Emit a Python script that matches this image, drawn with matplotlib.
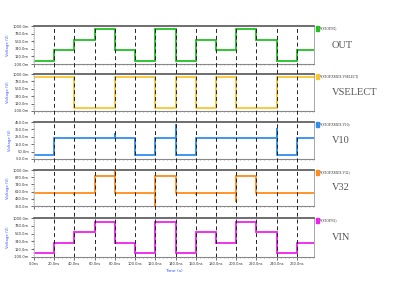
import numpy as np
import matplotlib
matplotlib.use("Agg")
import matplotlib.pyplot as plt
from matplotlib.ticker import MultipleLocator

# segment boundaries (ns) and per-segment levels (V)
t_edges = [0, 20, 40, 60, 80, 100, 120, 140, 160, 180, 200, 220, 240, 260, 277]
out_v = [0.0, 0.3, 0.6, 0.9, 0.3, 0.0, 0.9, 0.0, 0.6, 0.3, 0.9, 0.6, 0.0, 0.3]
vsel_v = [0.9, 0.9, 0.0, 0.0, 0.9, 0.9, 0.0, 0.9, 0.0, 0.9, 0.0, 0.0, 0.9, 0.9]
v10_v = [0.0, 0.24, 0.24, 0.24, 0.24, 0.0, 0.24, 0.0, 0.24, 0.24, 0.24, 0.24, 0.0, 0.24]
v32_v = [0.58, 0.58, 0.58, 0.89, 0.58, 0.58, 0.89, 0.58, 0.58, 0.58, 0.89, 0.58, 0.58, 0.58]
vin_v = [0.0, 0.3, 0.6, 0.9, 0.3, 0.0, 0.9, 0.0, 0.6, 0.3, 0.9, 0.6, 0.0, 0.3]

# switching glitches: time (ns) -> extreme value reached at the edge
v10_glitch = {80: 0.30, 140: 0.42, 240: 0.37}
v32_glitch = {40: 0.55, 80: 1.0, 120: 0.35, 160: 0.55, 200: 0.43}

names = ["OUT", "VSELECT", "V10", "V32", "VIN"]
legend_txt = ["V(STOP.N0)", "V(STOP.XMUX.VSELECT)", "V(STOP.XMUX.V10)",
              "V(STOP.XMUX.V32)", "V(STOP.N1)"]
colors = ["#22c022", "#f8c630", "#2f8ff0", "#ff8c1a", "#ee22ee"]
ylims = [(-0.1, 1.0), (-0.1, 1.0), (-0.05, 0.45), (0.35, 1.0), (-0.1, 1.0)]
series = [out_v, vsel_v, v10_v, v32_v, vin_v]
glitches = [{}, {}, v10_glitch, v32_glitch, {}]

# panel pixel rows (top, bottom) in the 415x291 figure
rows = [(26, 64), (74, 111), (122, 159), (170, 206), (218, 257)]
W, H = 415.0, 291.0
x0, x1 = 34, 314


def build(levels, glitch):
    xs, ys = [t_edges[0]], [levels[0]]
    for i in range(1, len(levels)):
        t = t_edges[i]
        xs.append(t); ys.append(levels[i - 1])
        if t in glitch:
            xs.append(t); ys.append(glitch[t])
        xs.append(t); ys.append(levels[i])
    xs.append(t_edges[-1]); ys.append(levels[-1])
    return xs, ys


fig = plt.figure(figsize=(4.15, 2.91), dpi=100)
axes = []
for k, (top, bot) in enumerate(rows):
    ax = fig.add_axes([x0 / W, 1 - bot / H, (x1 - x0) / W, (bot - top) / H])
    xs, ys = build(series[k], glitches[k])
    ax.plot(xs, ys, color=colors[k], lw=1.3, solid_joinstyle="miter")
    ax.set_xlim(0, 277)
    lo, hi = ylims[k]
    ax.set_ylim(lo, hi)
    yt = np.linspace(lo, hi, 6)
    ax.set_yticks(yt)
    ax.set_yticklabels(["%.1fm" % (v * 1000) for v in yt])
    ax.yaxis.set_minor_locator(MultipleLocator((hi - lo) / 20))
    ax.xaxis.set_major_locator(MultipleLocator(20))
    ax.xaxis.set_minor_locator(MultipleLocator(4))
    ax.tick_params(axis="both", which="major", labelsize=2.6, length=2,
                   width=0.5, pad=1.5, colors="#333333")
    ax.tick_params(axis="both", which="minor", length=1, width=0.4,
                   colors="#777777")
    ax.spines["top"].set_color("#555555")
    ax.spines["top"].set_linewidth(1.2)
    ax.spines["bottom"].set_color("#888888")
    ax.spines["bottom"].set_linewidth(0.8)
    ax.spines["left"].set_color("#bbbbbb")
    ax.spines["left"].set_linewidth(0.5)
    ax.spines["right"].set_color("#999999")
    ax.spines["right"].set_linewidth(0.6)
    ax.set_ylabel("Voltage (V)", fontsize=2.8, color="#3355ff", labelpad=2)
    if k < len(rows) - 1:
        ax.set_xticklabels([])
    else:
        ax.set_xticklabels(["%.1fns" % v for v in ax.get_xticks()])
        ax.set_xlabel("Time (s)", fontsize=3.2, color="#3355ff", labelpad=2)

    # legend swatch and trace name
    fig.patches.append(plt.Rectangle((316 / W, 1 - (top + 5) / H), 2.5 / W,
                                     5 / H, transform=fig.transFigure,
                                     color=colors[k]))
    fig.text(320 / W, 1 - (top + 2.5) / H, legend_txt[k], fontsize=2.4,
             va="center", ha="left", color="#222222", family="Liberation Serif")
    fig.text(332 / W, 1 - (top + bot) / 2 / H, names[k], fontsize=7.5,
             va="center", ha="left", color="#555555", family="Liberation Serif")
    axes.append(ax)

# dashed markers every 20 ns spanning all panels
ov = fig.add_axes([x0 / W, 1 - rows[-1][1] / H, (x1 - x0) / W,
                   (rows[-1][1] - rows[0][0]) / H])
ov.set_xlim(0, 277)
ov.set_ylim(0, 1)
ov.patch.set_alpha(0)
ov.axis("off")
for t in t_edges[1:-1]:
    ov.axvline(t, color="#222222", lw=0.7, ls=(0, (4, 3)))

fig.savefig("out.png", dpi=100)
